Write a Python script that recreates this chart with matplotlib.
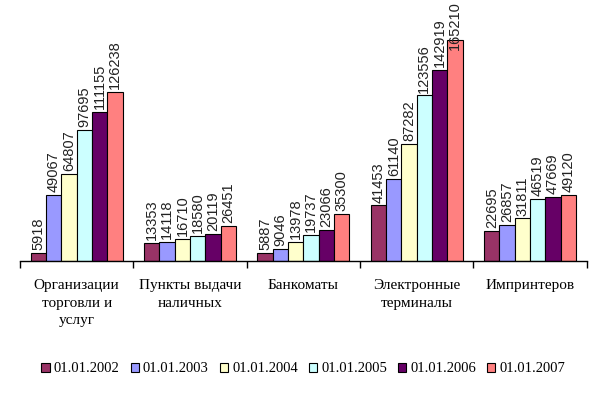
#!/usr/bin/env python3

import numpy as np
import matplotlib
matplotlib.use("Agg")
import matplotlib.pyplot as plt
import matplotlib.transforms as mtransforms

# data
categories = ["Организации\nторговли и\nуслуг", "Пункты выдачи\nналичных", "Банкоматы",
              "Электронные\nтерминалы", "Импринтеров"]
dates = ["01.01.2002", "01.01.2003", "01.01.2004", "01.01.2005", "01.01.2006", "01.01.2007"]
v2002 = [5918, 13353, 5887, 41453, 22695]
v2003 = [49067, 14118, 9046, 61140, 26857]
v2004 = [64807, 16710, 13978, 87282, 31811]
v2005 = [97695, 18580, 19737, 123556, 46519]
v2006 = [111155, 20119, 23066, 142919, 47669]
v2007 = [126238, 26451, 35300, 165210, 49120]
series = [v2002, v2003, v2004, v2005, v2006, v2007]
colors = ["#993366", "#9999FF", "#FFFFCC", "#CCFFFF", "#660066", "#FF8080"]

fig = plt.figure(figsize=(6.08, 3.94), dpi=100)
ax = fig.add_axes([0.033, 0.3376, 0.932, 0.6374])
top_trans = mtransforms.blended_transform_factory(ax.transData, fig.transFigure)

x = np.arange(len(categories)) + 0.5
w = 0.135
vmax = max(max(s) for s in series)
for i, vals in enumerate(series):
  pos = x + (i - 2.5) * w
  ax.bar(pos, vals, w, color=colors[i], edgecolor="black", linewidth=0.8, label=dates[i])
  for p, v in zip(pos, vals):
    if v == vmax:
      # label does not fit above the tallest bar, so it is pushed down into it
      ax.text(p, 0.998, str(v), transform=top_trans, rotation=90, ha="center", va="top",
              fontsize=10.5, family="Liberation Sans", color="#222222")
      continue
    ax.annotate(str(v), (p, v), xytext=(0, 2), textcoords="offset points",
                rotation=90, ha="center", va="bottom", fontsize=10.5,
                family="Liberation Sans", color="#222222", annotation_clip=False)

ax.set_xlim(0, 5)
ax.set_ylim(0, 187500)
for s in ["top", "right", "left"]:
  ax.spines[s].set_visible(False)
ax.spines["bottom"].set_linewidth(1.0)
ax.set_yticks([])
ax.set_xticks(range(6))
ax.set_xticklabels([])
ax.tick_params(axis="x", length=5, width=1.0, direction="out")

for xc, name in zip(x, categories):
  ax.text(xc, -0.072, name, transform=ax.get_xaxis_transform(), ha="center", va="top",
          fontsize=11, family="Liberation Serif", linespacing=1.45)

ax.legend(loc="center", bbox_to_anchor=(0.5, -0.43), ncol=6, frameon=False,
          prop={"family": "Liberation Serif", "size": 10.5},
          handlelength=0.55, handleheight=0.55, handletextpad=0.3, columnspacing=0.75)

plt.savefig("out.png", dpi=100)
